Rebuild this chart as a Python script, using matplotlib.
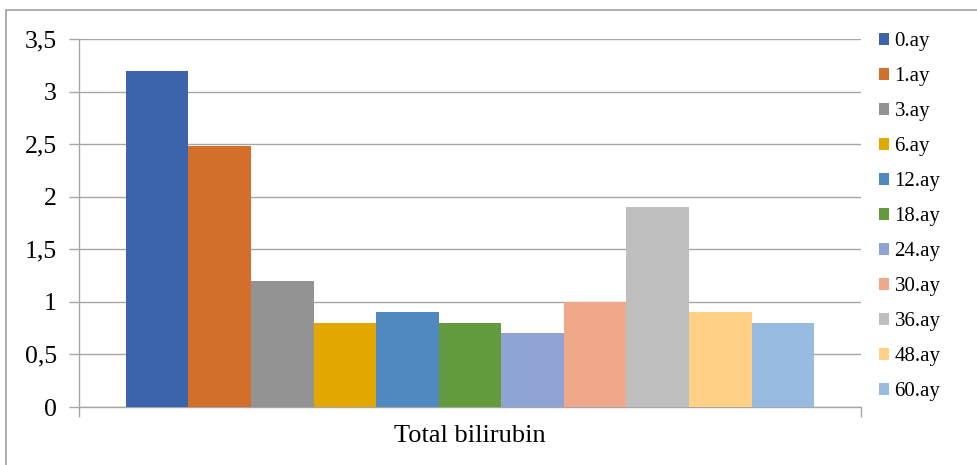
import matplotlib.pyplot as plt
from matplotlib.patches import Patch
from matplotlib.lines import Line2D

# total bilirubin by follow-up month
MONTHS = ["0.ay", "1.ay", "3.ay", "6.ay", "12.ay", "18.ay",
          "24.ay", "30.ay", "36.ay", "48.ay", "60.ay"]
VALUES = [3.2, 2.48, 1.2, 0.8, 0.9, 0.8, 0.7, 1.0, 1.9, 0.9, 0.8]
COLORS = ["#3B64AD", "#D26F2A", "#939393", "#E3A800", "#4E88BF", "#629A3D",
          "#8FA3D5", "#F0A88A", "#BEBEBE", "#FFD085", "#98B9E0"]
CATEGORY = "Total bilirubin"
Y_TICKS = [0, 0.5, 1, 1.5, 2, 2.5, 3, 3.5]
Y_LABELS = ["0", "0,5", "1", "1,5", "2", "2,5", "3", "3,5"]

plt.rcParams['font.family'] = ['Liberation Serif', 'DejaVu Serif']
GRID = "#A6A6A6"

W, H = 978, 465
fig = plt.figure(figsize=(W / 100, H / 100), dpi=100)
ax = fig.add_axes([79 / W, (H - 407) / H, (861 - 79) / W, (407 - 39) / H])

n = len(VALUES)
bar_w = 0.08
start = -bar_w * n / 2
for i, (v, c) in enumerate(zip(VALUES, COLORS)):
    ax.bar(start + bar_w * (i + 0.5), v, width=bar_w, color=c, zorder=3)

ax.set_xlim(-0.5, 0.5)
ax.set_ylim(0, 3.5)
ax.set_yticks(Y_TICKS, Y_LABELS)
ax.yaxis.grid(True, color=GRID, lw=1.0, zorder=0)
ax.tick_params(axis='y', length=7, width=1.0, color=GRID, labelsize=18.5, pad=9)

ax.set_xticks([0], [CATEGORY])
ax.set_xticks([-0.5, 0.5], minor=True)
ax.tick_params(axis='x', which='major', length=0, labelsize=19, pad=13)
ax.tick_params(axis='x', which='minor', length=7, width=1.0, color=GRID)

for side in ("top", "right"):
    ax.spines[side].set_visible(False)
for side in ("left", "bottom"):
    ax.spines[side].set_color(GRID)
    ax.spines[side].set_linewidth(1.0)

handles = [Patch(facecolor=c, edgecolor='none') for c in COLORS]
fig.legend(handles, MONTHS, loc='upper left', bbox_to_anchor=(879 / W, 1 - 32 / H),
           frameon=False, fontsize=15, handlelength=0.5, handleheight=0.5,
           handletextpad=0.25, labelspacing=0.77, borderaxespad=0, borderpad=0)

# chart border (only top and left edges fall inside the image)
fig.add_artist(Line2D([6 / W, 6 / W, 1.05], [-0.05, 1 - 10 / H, 1 - 10 / H],
                      transform=fig.transFigure, color="#A0A0A0", lw=1.2))

fig.savefig("out.png", dpi=100)
